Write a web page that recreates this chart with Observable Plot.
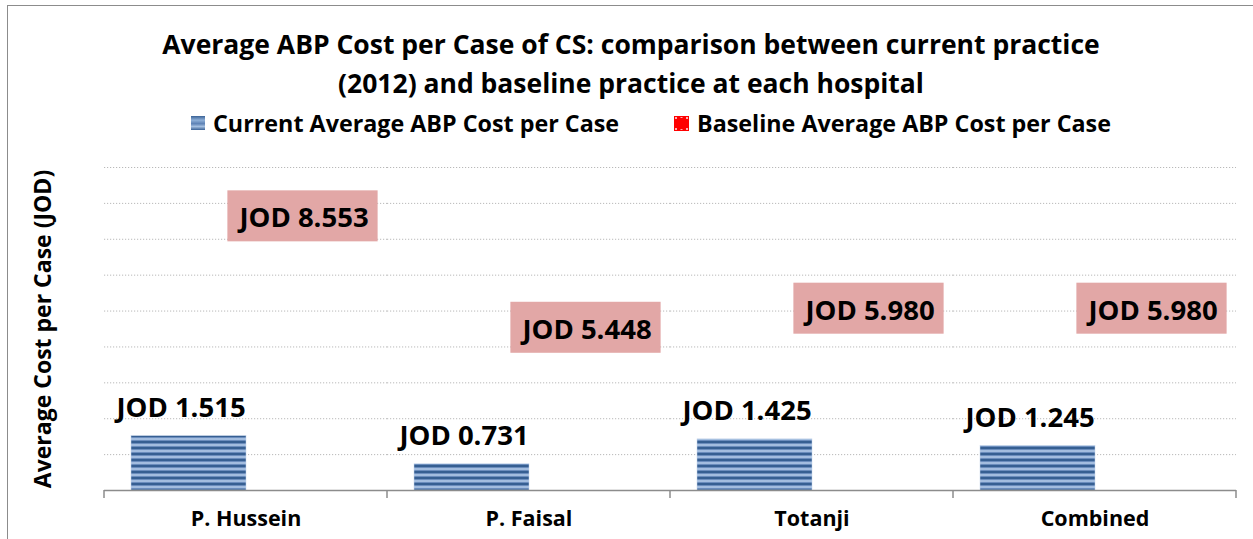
<!DOCTYPE html>
<html>
<head>
<meta charset="utf-8">
<script src="https://cdn.jsdelivr.net/npm/d3@7"></script>
<script src="https://cdn.jsdelivr.net/npm/@observablehq/plot@0.6"></script>
<style>
  html, body { margin: 0; padding: 0; }
  body { width: 1253px; height: 539px; overflow: hidden; background: #fff; position: relative;
         font-family: "Open Sans", "Noto Sans", sans-serif; color: #000; }
  #border { position: absolute; left: 7px; top: 5px; width: 1300px; height: 600px;
            border: 1.5px solid #8c8c8c; box-sizing: border-box; }
  #title { position: absolute; left: 0; width: 1262px; top: 25px; text-align: center;
           font-weight: 700; font-size: 26.5px; line-height: 39px; }
  .leg { position: absolute; top: 109px; display: flex; align-items: center;
         font-weight: 700; font-size: 23.3px; line-height: 28px; white-space: nowrap; }
  .leg svg { margin-right: 8px; }
  #chart { position: absolute; left: 0; top: 140px; }
</style>
</head>
<body>
<div id="border"></div>
<div id="title">Average ABP Cost per Case of CS: comparison between current practice<br>(2012) and baseline practice at each hospital</div>
<div class="leg" id="leg1" style="left:191px"></div>
<div class="leg" id="leg2" style="left:674px"></div>
<div id="chart"></div>
<script>
// ---- data ----
const hospitals = ["P. Hussein", "P. Faisal", "Totanji", "Combined"];
const currentCost = [1.515, 0.731, 1.425, 1.245];
const baselineCost = [8.553, 5.448, 5.980, 5.980];
const seriesKeys = ["Current", "Baseline"];
const seriesNames = ["Current Average ABP Cost per Case", "Baseline Average ABP Cost per Case"];
const gridValues = [1, 2, 3, 4, 5, 6, 7, 8, 9];
const yTitle = "Average Cost per Case (JOD)";

const currentRows = hospitals.map((h, i) => ({hospital: h, series: seriesKeys[0], value: currentCost[i]}));
const baselineRows = hospitals.map((h, i) => ({hospital: h, series: seriesKeys[1], value: baselineCost[i]}));
const fmt = d => "JOD " + d3.format(".3f")(d.value);

// ---- legend ----
document.getElementById("leg1").innerHTML =
  `<svg width="14" height="14"><defs><linearGradient id="lg1" x1="0" y1="0" x2="0" y2="1">
     <stop offset="0" stop-color="#3a6296"/><stop offset="0.3" stop-color="#8fb0d8"/>
     <stop offset="0.55" stop-color="#5d82b5"/><stop offset="0.75" stop-color="#a4bfe0"/>
     <stop offset="1" stop-color="#3a6296"/></linearGradient></defs>
     <rect width="14" height="14" fill="url(#lg1)"/></svg><span>${seriesNames[0]}</span>`;
document.getElementById("leg2").innerHTML =
  `<svg width="15" height="15"><rect width="15" height="15" fill="#ff0000"/>
     <g fill="#ffb0b0"><rect x="1" y="1" width="2" height="2"/><rect x="12" y="1" width="2" height="2"/>
     <rect x="1" y="12" width="2" height="2"/><rect x="12" y="12" width="2" height="2"/>
     <rect x="6.5" y="1" width="2" height="1"/><rect x="6.5" y="13" width="2" height="1"/></g></svg><span>${seriesNames[1]}</span>`;

// ---- chart ----
const chart = Plot.plot({
  width: 1253,
  height: 399,
  marginTop: 27,
  marginBottom: 49,
  marginLeft: 104,
  marginRight: 17,
  style: {fontFamily: "'Open Sans', sans-serif", fontSize: "20px", color: "#000", background: "transparent"},
  fx: {domain: hospitals, padding: 0, label: null},
  x: {domain: seriesKeys, paddingInner: 0, paddingOuter: 0.23, axis: null},
  y: {domain: [0, 9]},
  marks: [
    Plot.ruleY(gridValues, {stroke: "#b9b9b9", strokeWidth: 1, strokeDasharray: "1.2,1.8"}),
    Plot.barY(currentRows, {fx: "hospital", x: "series", y: "value", fill: "url(#abpStripes)", stroke: "#c5d5ea", strokeWidth: 0.5}),
    Plot.barY(baselineRows, {fx: "hospital", x: "series", y: "value", fill: "none"}),
    Plot.ruleY([0], {stroke: "#8c8c8c", strokeWidth: 1.5}),
    Plot.text(currentRows, {fx: "hospital", x: "series", y: "value", text: fmt, dy: -28, dx: -8,
      fontSize: 27.5, fontWeight: 700, fill: "#000"}),
    Plot.text(baselineRows, {fx: "hospital", x: "series", y: "value", text: fmt, dy: 35,
      fontSize: 27.5, fontWeight: 700, fill: "#000", className: "baseline-label"}),
    Plot.axisFx({anchor: "bottom", tickSize: 0, tickPadding: 20, fontSize: 21.5, fontWeight: 700, label: null}),
    Plot.axisY({ticks: [], tickSize: 0, label: yTitle, labelAnchor: "center", labelArrow: "none",
      labelOffset: 70, fontSize: 23, fontWeight: 700})
  ]
});
document.getElementById("chart").appendChild(chart);

const svg = d3.select(chart);
// striped fill pattern for current bars
const defs = svg.insert("defs", ":first-child");
const pat = defs.append("pattern").attr("id", "abpStripes").attr("patternUnits", "userSpaceOnUse")
  .attr("width", 10).attr("height", 6);
pat.append("rect").attr("width", 10).attr("height", 6).attr("fill", "#a3bddf");
pat.append("rect").attr("y", 0).attr("width", 10).attr("height", 1).attr("fill", "#6b8dbd");
pat.append("rect").attr("y", 1).attr("width", 10).attr("height", 2).attr("fill", "#365f92");
pat.append("rect").attr("y", 3).attr("width", 10).attr("height", 1).attr("fill", "#6b8dbd");

// background boxes for baseline labels
svg.selectAll(".baseline-label text").each(function () {
  const b = this.getBBox();
  d3.select(this.parentNode).insert("rect", () => this)
    .attr("x", b.x - 9).attr("y", b.y - 8).attr("width", b.width + 18).attr("height", b.height + 14)
    .attr("fill", "#e2a7a6")
    .attr("transform", this.getAttribute("transform"));
});

// category boundary ticks from the fx scale
const fxs = chart.scale("fx");
const edges = hospitals.map(h => fxs.apply(h)).concat([fxs.apply(hospitals[hospitals.length - 1]) + fxs.bandwidth]);
const y0 = chart.scale("y").apply(0);
svg.append("g").selectAll("line").data(edges).join("line")
  .attr("x1", d => d).attr("x2", d => d).attr("y1", y0).attr("y2", y0 + 8)
  .attr("stroke", "#8c8c8c").attr("stroke-width", 1.5);
</script>
</body>
</html>
